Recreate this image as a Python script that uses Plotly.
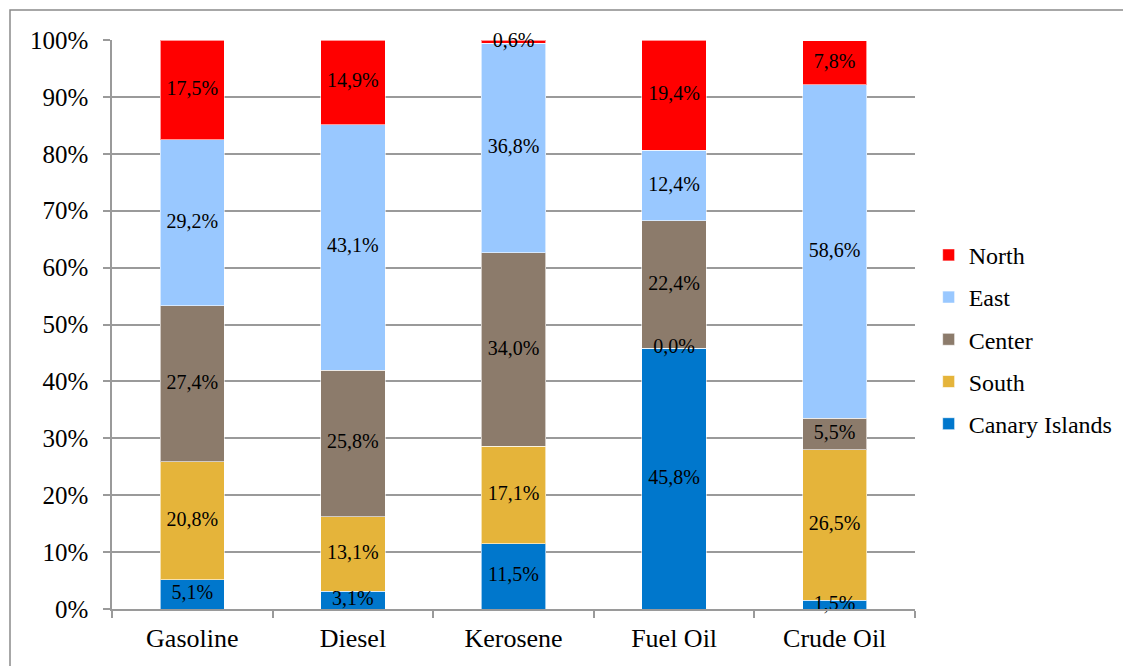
import plotly.graph_objects as go

categories = ["Gasoline", "Diesel", "Kerosene", "Fuel Oil", "Crude Oil"]
series_names = ["Canary Islands", "South", "Center", "East", "North"]
canary = [5.1, 3.1, 11.5, 45.8, 1.5]
south = [20.8, 13.1, 17.1, 0.0, 26.5]
center = [27.4, 25.8, 34.0, 22.4, 5.5]
east = [29.2, 43.1, 36.8, 12.4, 58.6]
north = [17.5, 14.9, 0.6, 19.4, 7.8]
colors = ["#0077CC", "#E5B43A", "#8C7B6B", "#99C8FF", "#FF0000"]
y_ticks = list(range(0, 101, 10))
y_tick_labels = [f"{v}%" for v in y_ticks]

series = [canary, south, center, east, north]

fig = go.Figure()
font_family = "Liberation Serif, Times New Roman, Tinos, serif"

for i, (name, vals) in enumerate(zip(series_names, series)):
    fig.add_trace(go.Bar(
        x=categories, y=vals, name=name,
        marker=dict(color=colors[i], line=dict(color="rgba(255,255,255,0.6)", width=1)),
        width=0.4, legendgroup=name, legendrank=len(series_names) - i,
        hoverinfo="skip",
    ))

# labels at segment midpoints
cum = [0.0] * len(categories)
lx, ly, lt = [], [], []
for vals in series:
    for j, v in enumerate(vals):
        lx.append(categories[j])
        ly.append(cum[j] + v / 2)
        lt.append(f"{v:.1f}%".replace(".", ","))
        cum[j] += v
fig.add_trace(go.Scatter(
    x=lx, y=ly, text=lt, mode="text", showlegend=False, hoverinfo="skip",
    textfont=dict(family=font_family, size=20, color="black"),
    cliponaxis=False,
))

# page has an 8px body margin: figure coords = screen coords - 8
L, T, R, B = 104, 32, 907, 601
fig.update_layout(
    barmode="stack",
    width=1131, height=666,
    paper_bgcolor="white", plot_bgcolor="white",
    margin=dict(l=L, r=1131 - R, t=T, b=666 - B, autoexpand=False),
    font=dict(family=font_family, color="black"),
    legend=dict(
        x=1.017, y=0.474, xanchor="left", yanchor="middle",
        traceorder="grouped", tracegroupgap=8,
        font=dict(family=font_family, size=24),
        itemwidth=30,
    ),
    yaxis=dict(
        range=[0, 100], tickmode="array", tickvals=y_ticks, ticktext=y_tick_labels,
        showgrid=True, gridcolor="#9a9a9a", gridwidth=1.5,
        showline=True, linecolor="#9a9a9a", linewidth=1.5,
        ticks="outside", ticklen=7, tickcolor="#9a9a9a", tickwidth=1.5,
        tickfont=dict(family=font_family, size=25), zeroline=False,
        ticklabelstandoff=10,
    ),
    xaxis=dict(
        showline=True, linecolor="#9a9a9a", linewidth=1.5,
        ticks="outside", tickson="boundaries", ticklen=7,
        tickcolor="#9a9a9a", tickwidth=1.5,
        tickfont=dict(family=font_family, size=26),
        ticklabelstandoff=5,
    ),
    shapes=[dict(
        type="rect", xref="paper", yref="paper",
        x0=(2 - L) / (R - L), x1=1.6, y0=-0.3, y1=(B - 2) / (B - T),
        line=dict(color="#8a8a8a", width=1.5), fillcolor="rgba(0,0,0,0)",
        layer="below",
    )],
)

fig.write_html("out.html")
